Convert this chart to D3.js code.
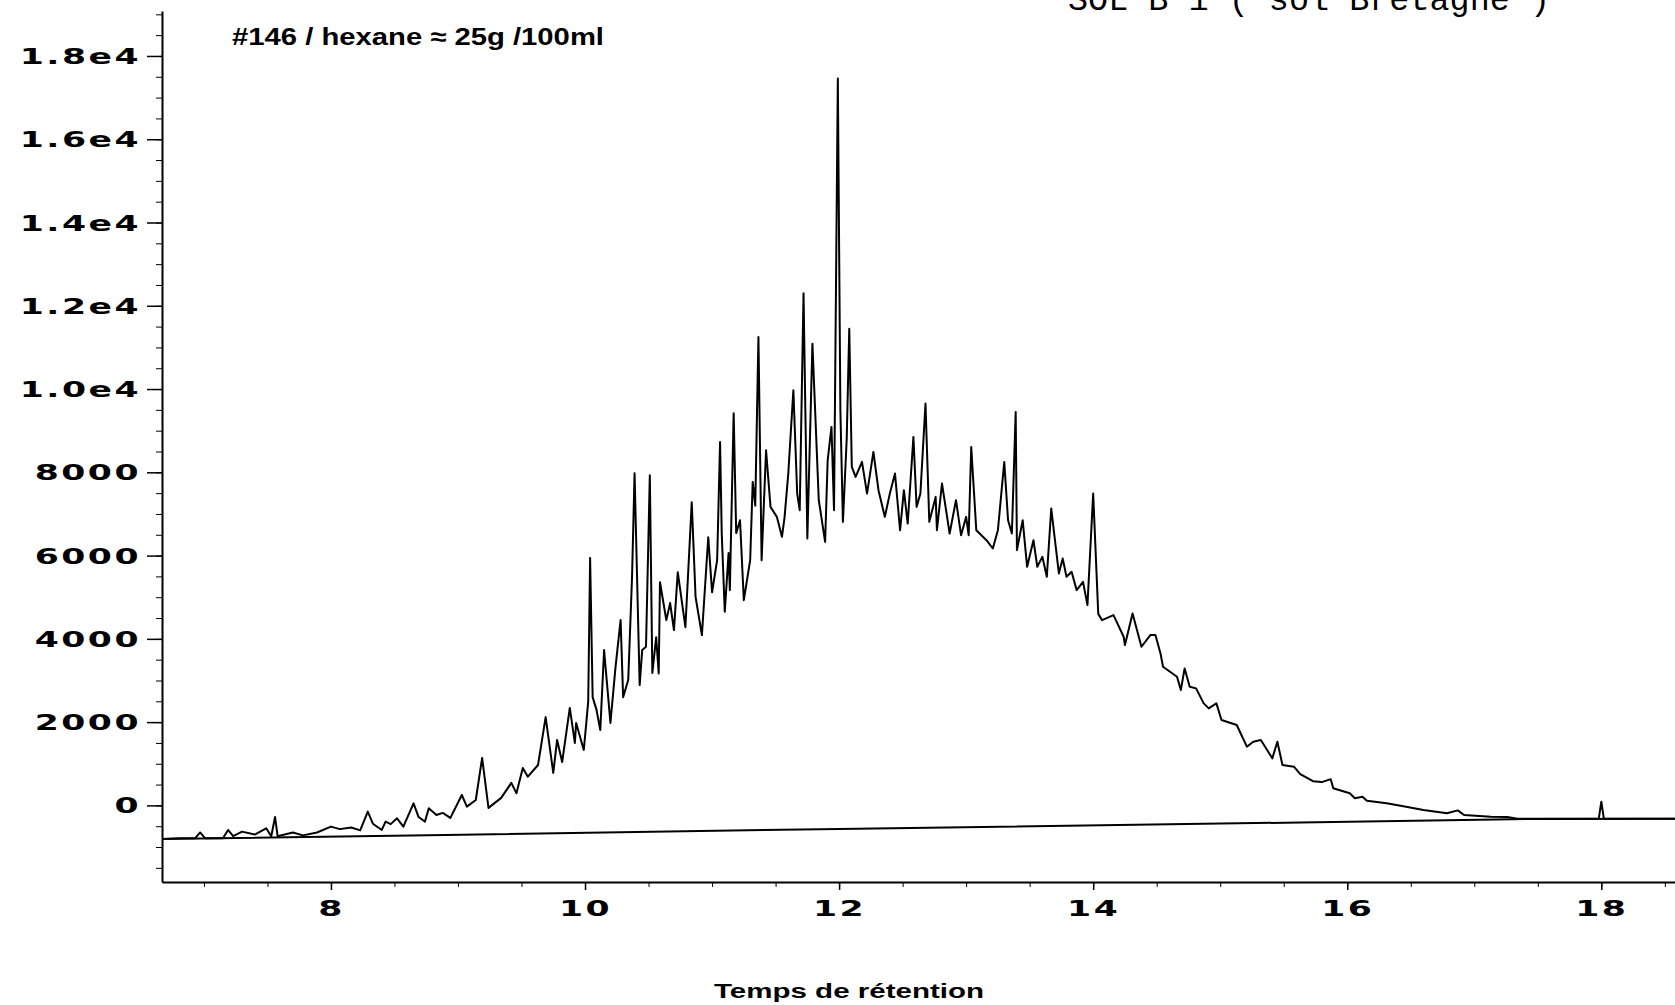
<!DOCTYPE html>
<html>
<head>
<meta charset="utf-8">
<script src="https://cdnjs.cloudflare.com/ajax/libs/d3/7.8.5/d3.min.js"></script>
<style>
  body { margin: 0; background: #fff; }
  svg { display: block; background: #fff; }
  .tick text { font-family: "DejaVu Sans", sans-serif; font-weight: bold; font-size: 21px; letter-spacing: 1.5px; fill: #000; }
  .domain, .tick line { stroke: #000; }
</style>
</head>
<body>
<div id="chart"></div>
<script>
// retention time (min) / detector signal
var retentionTime = [
  6.67, 6.81, 6.93, 6.97, 7.01, 7.15, 7.19, 7.23, 7.30, 7.40, 7.49, 7.53, 7.56, 7.58, 7.70, 7.78, 7.89, 8.00, 8.07, 8.16,
  8.23, 8.29, 8.33, 8.40, 8.43, 8.47, 8.52, 8.57, 8.65, 8.69, 8.74, 8.77, 8.83, 8.88, 8.94,
  9.03, 9.07, 9.14, 9.19, 9.24, 9.34, 9.42, 9.46, 9.51, 9.55, 9.63, 9.69, 9.75, 9.78, 9.82, 9.88, 9.92, 9.93, 9.99, 10.01,
  10.025, 10.04, 10.06, 10.09, 10.12, 10.15, 10.20, 10.24, 10.28, 10.30, 10.34, 10.37, 10.39, 10.43, 10.45, 10.48,
  10.51, 10.53, 10.56, 10.58, 10.59, 10.64, 10.67, 10.70, 10.73, 10.79, 10.84, 10.87, 10.92, 10.97, 11.00, 11.04,
  11.063, 11.076, 11.10, 11.13, 11.14, 11.17, 11.19, 11.22, 11.25, 11.30, 11.32, 11.34, 11.365, 11.39, 11.425, 11.46,
  11.51, 11.55, 11.57, 11.60, 11.64, 11.67, 11.69, 11.72, 11.75, 11.79, 11.84, 11.89, 11.91, 11.94, 11.96, 11.99, 12.01, 12.03,
  12.06, 12.08, 12.10, 12.13, 12.18, 12.22, 12.27, 12.31, 12.36, 12.40, 12.44, 12.48, 12.51, 12.54, 12.585, 12.61, 12.64,
  12.68, 12.71, 12.76, 12.77, 12.81, 12.87, 12.92, 12.96, 13.00, 13.02, 13.04, 13.08, 13.16, 13.21, 13.25, 13.30, 13.33,
  13.36, 13.39, 13.40, 13.445, 13.48, 13.53, 13.56, 13.60, 13.635, 13.67, 13.73, 13.76, 13.79, 13.83, 13.87, 13.92, 13.955,
  14.00, 14.04, 14.07,
  14.16, 14.24, 14.25, 14.31, 14.38, 14.45, 14.49, 14.53, 14.55, 14.66, 14.69, 14.72, 14.76, 14.81, 14.87, 14.91, 14.97,
  15.01, 15.13, 15.21, 15.26, 15.32, 15.41, 15.45, 15.49, 15.58, 15.63, 15.73, 15.80, 15.87, 15.89, 16.02, 16.06, 16.12,
  16.155, 16.31, 16.42, 16.60, 16.785, 16.87, 16.92, 17.13, 17.26, 17.34, 17.98, 18.0, 18.02, 18.58
];
var signal = [
  -810, -790, -790, -650, -790, -790, -590, -740, -630, -700, -550, -740, -280, -740, -650, -720, -650, -510, -570, -530,
  -600, -150, -440, -590, -390, -450, -310, -510, 50, -280, -390, -70, -230, -180, -300,
  250, -30, 130, 1140, -60, 180, 540, 290, 900, 690, 970, 2120, 780, 1570, 1040, 2340, 1500, 1980, 1330, 1980,
  2500, 5940, 2600, 2300, 1810, 3730, 1980, 3320, 4450, 2600, 3010, 5480, 7980, 2890, 3730, 3810,
  7930, 3180, 4040, 3170, 5360, 4450, 4860, 4210, 5600, 4280, 7280, 5010, 4090, 6440, 5120, 5890,
  8730, 6540, 4650, 6060, 5170, 9420, 6540, 6850, 4930, 5890, 7770, 7200, 11250, 5890, 8530, 7170,
  6930, 6450, 6900, 7970, 9970, 7490, 7090, 12300, 6410, 11090, 7330, 6330, 8290, 9090, 7090, 17460, 9500, 6810,
  8810, 11450, 8130, 7890, 8250, 7490, 8490, 7570, 6930, 7500, 7970, 6610, 7570, 6770, 8850, 7170, 7490,
  9650, 6810, 7410, 6610, 7730, 6530, 7330, 6490, 6930, 6490, 8610, 6610, 6370, 6170, 6610, 8250, 6850,
  6530, 9450, 6130, 6850, 5730, 6370, 5730, 5970, 5490, 7130, 5570, 5930, 5490, 5610, 5170, 5370, 4810,
  7490, 4600, 4450,
  4570, 4050, 3850, 4610, 3810, 4090, 4090, 3650, 3330, 3090, 2770, 3290, 2850, 2810, 2450, 2330, 2450,
  2050, 1930, 1410, 1530, 1570, 1130, 1530, 970, 930, 750, 580, 560, 630, 410, 290, 170, 210,
  110, 50, -10, -110, -190, -120, -230, -270, -280, -320, -320, 90, -320, -320
];

// integration baseline drawn under the hump
var baselineTime = [6.67, 8.9, 12.0, 15.63, 17.3, 18.58];
var baselineSignal = [-810, -710, -565, -410, -330, -320];

var yTickValues = [0, 2000, 4000, 6000, 8000, 10000, 12000, 14000, 16000, 18000];
var yTickLabels = ["0", "2000", "4000", "6000", "8000", "1.0e4", "1.2e4", "1.4e4", "1.6e4", "1.8e4"];
var xTickValues = [8, 10, 12, 14, 16, 18];
var xTickLabels = ["8", "10", "12", "14", "16", "18"];

var svgWidth = 1675;
var svgHeight = 1005;
var stretch = 1.65;

var svg = d3.select("#chart")
  .append("svg")
  .attr("width", svgWidth)
  .attr("height", svgHeight);

var xScale = d3.scaleLinear()
  .domain([6.67, 18.58])
  .range([162, 1675]);

var yScale = d3.scaleLinear()
  .domain([-1840, 19080])
  .range([882, 11]);

// minor ticks first, then the labelled ones
var xMinor = d3.range(7, 18.6, 0.5);
var yMinor = d3.range(-1500, 19001, 500);

svg.append("g")
  .attr("transform", "translate(0,882)")
  .call(d3.axisBottom(xScale).tickValues(xMinor).tickSize(5).tickSizeOuter(0).tickFormat(""))
  .call(g => g.select(".domain").attr("stroke-width", 2));

var xAxis = svg.append("g")
  .attr("transform", "translate(0,882)")
  .call(d3.axisBottom(xScale).tickValues(xTickValues).tickSize(8).tickSizeOuter(0)
    .tickFormat((d, i) => xTickLabels[i]));
xAxis.select(".domain").remove();
xAxis.selectAll(".tick line").attr("stroke-width", 1.5);
xAxis.selectAll(".tick text")
  .attr("y", 34)
  .attr("dy", 0)
  .attr("transform", `scale(${stretch},1)`);

svg.append("g")
  .attr("transform", "translate(162,0)")
  .call(d3.axisLeft(yScale).tickValues(yMinor).tickSize(6).tickSizeOuter(0).tickFormat(""))
  .call(g => g.select(".domain").attr("stroke-width", 2));

var yAxis = svg.append("g")
  .attr("transform", "translate(162,0)")
  .call(d3.axisLeft(yScale).tickValues(yTickValues).tickSize(15).tickSizeOuter(0)
    .tickFormat((d, i) => yTickLabels[i]));
yAxis.select(".domain").remove();
yAxis.selectAll(".tick line").attr("stroke-width", 1.5);
yAxis.selectAll(".tick text")
  .attr("x", -21 / stretch)
  .attr("dy", "0.36em")
  .attr("transform", `scale(${stretch},1)`);

// baseline and chromatogram trace
var baseLine = d3.line()
  .x((d, i) => xScale(baselineTime[i]))
  .y(d => yScale(d));

svg.append("path")
  .datum(baselineSignal)
  .attr("d", baseLine)
  .attr("fill", "none")
  .attr("stroke", "#000")
  .attr("stroke-width", 2);

var traceLine = d3.line()
  .x((d, i) => xScale(retentionTime[i]))
  .y(d => yScale(d));

svg.append("path")
  .datum(signal)
  .attr("d", traceLine)
  .attr("fill", "none")
  .attr("stroke", "#000")
  .attr("stroke-width", 2)
  .attr("stroke-linejoin", "round");

// texts
svg.append("text")
  .attr("x", 232)
  .attr("y", 45)
  .attr("textLength", 372)
  .attr("lengthAdjust", "spacingAndGlyphs")
  .style("font-family", "'Liberation Sans Narrow', 'Liberation Sans', sans-serif")
  .style("font-weight", "bold")
  .style("font-size", "24px")
  .text("#146 / hexane ≈ 25g /100ml");

svg.append("text")
  .attr("x", 1068)
  .attr("y", 10)
  .attr("textLength", 482)
  .attr("lengthAdjust", "spacingAndGlyphs")
  .style("font-family", "'Liberation Mono', monospace")
  .style("font-size", "33px")
  .text("SOL B 1 ( sol Bretagne )");

svg.append("text")
  .attr("x", 849)
  .attr("y", 998)
  .attr("text-anchor", "middle")
  .attr("textLength", 270)
  .attr("lengthAdjust", "spacingAndGlyphs")
  .style("font-family", "'Liberation Sans', sans-serif")
  .style("font-weight", "bold")
  .style("font-size", "20px")
  .text("Temps de rétention");
</script>
</body>
</html>
